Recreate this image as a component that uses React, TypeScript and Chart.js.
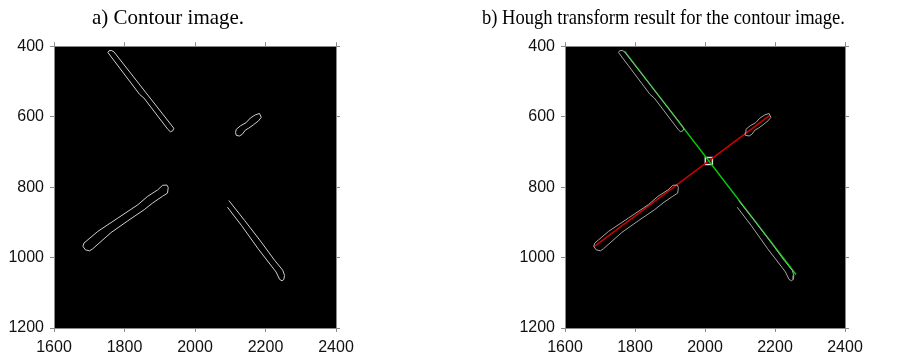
import React, { useEffect, useRef } from "react";
import { Chart, registerables } from "chart.js";

Chart.register(...registerables);

// ---- data (image coordinates: x = column, y = row) ----
const xTicks = [1600, 1800, 2000, 2200, 2400];
const yTicks = [400, 600, 800, 1000, 1200];

const titleA = "a) Contour image.";
const titleB = "b) Hough transform result for the contour image.";

// contour outlines of the four line segments
const blob1 = [
  [1756, 413], [1763, 412], [1770, 416], [1940, 633], [1937, 640], [1930, 643],
  [1923, 636], [1855, 547], [1843, 537], [1753, 418], [1756, 413],
];
const blob2 = [
  [2115, 645], [2117, 636], [2129, 626], [2145, 617], [2157, 604], [2171, 595],
  [2183, 591], [2188, 602], [2180, 612], [2166, 623], [2152, 633], [2143, 638],
  [2134, 650], [2126, 655], [2117, 653], [2115, 645],
];
const blob3 = [
  [1682, 968], [1685, 959], [1724, 926], [1781, 888], [1838, 850], [1866, 826],
  [1894, 808], [1908, 795], [1920, 794], [1924, 801], [1922, 817], [1908, 826],
  [1880, 845], [1856, 864], [1809, 896], [1762, 929], [1710, 975], [1701, 981],
  [1689, 978], [1682, 968],
];
const blob4 = [
  [2096, 838], [2141, 895], [2188, 956], [2226, 1008], [2249, 1036], [2254, 1051],
  [2252, 1062], [2247, 1066], [2240, 1062], [2230, 1041], [2179, 975], [2132, 909],
  [2092, 857],
];

// Hough transform detected lines and their intersection
const greenLine = [[1770, 414], [2260, 1048]];
const redLine = [[1683, 969], [2184, 597]];
const houghPeak = [[2011, 726]];

const contours = [blob1, blob2, blob3, blob4];

// ---- helpers ----
const toPts = (arr: number[][]) => arr.map(([x, y]) => ({ x, y }));

const axisColor = "#8a8a8a";
const tickFont = { family: "'Liberation Sans', Arial, sans-serif", size: 16 };

const blackArea = {
  id: "blackArea",
  beforeDraw(chart: any) {
    const { ctx, chartArea: a } = chart;
    if (!a) return;
    ctx.save();
    ctx.fillStyle = "#000";
    ctx.fillRect(a.left, a.top, a.right - a.left, a.bottom - a.top);
    ctx.restore();
  },
};

function makeScales(yAxisWidth: number) {
  const common = {
    type: "linear",
    grid: { drawOnChartArea: false, drawTicks: true, tickLength: 4, color: axisColor, lineWidth: 1 },
    border: { display: true, color: axisColor, width: 1 },
  };
  return {
    x: {
      ...common,
      axis: "x",
      position: "bottom",
      min: 1600,
      max: 2400,
      afterBuildTicks: (s: any) => { s.ticks = xTicks.map((v) => ({ value: v })); },
      ticks: { color: "#111", font: tickFont, padding: 6, maxRotation: 0, autoSkip: false, callback: (v: any) => String(v) },
      afterFit: (s: any) => { s.height = 31; s.paddingLeft = 0; s.paddingRight = 0; },
    },
    x2: {
      ...common,
      axis: "x",
      position: "top",
      min: 1600,
      max: 2400,
      afterBuildTicks: (s: any) => { s.ticks = xTicks.map((v) => ({ value: v })); },
      ticks: { display: false },
      afterFit: (s: any) => { s.height = 0; s.paddingLeft = 0; s.paddingRight = 0; },
    },
    y: {
      ...common,
      axis: "y",
      position: "left",
      reverse: true,
      min: 400,
      max: 1200,
      afterBuildTicks: (s: any) => { s.ticks = yTicks.map((v) => ({ value: v })); },
      ticks: { color: "#111", font: tickFont, padding: 6, autoSkip: false, callback: (v: any) => String(v) },
      afterFit: (s: any) => { s.width = yAxisWidth; s.paddingTop = 0; s.paddingBottom = 0; },
    },
    y2: {
      ...common,
      axis: "y",
      position: "right",
      reverse: true,
      min: 400,
      max: 1200,
      afterBuildTicks: (s: any) => { s.ticks = yTicks.map((v) => ({ value: v })); },
      ticks: { display: false },
      afterFit: (s: any) => { s.width = 0; s.paddingTop = 0; s.paddingBottom = 0; },
    },
  };
}

function lineDs(arr: number[][], color: string, width: number) {
  return {
    data: toPts(arr),
    showLine: true,
    borderColor: color,
    borderWidth: width,
    pointRadius: 0,
    fill: false,
    tension: 0,
  };
}

function makeConfig(title: string, yAxisWidth: number, rightPad: number, withHough: boolean) {
  const contourColor = withHough ? "#a6a6a6" : "#cfcfcf";
  const datasets: any[] = contours.map((c) => lineDs(c, contourColor, 1));
  if (withHough) {
    datasets.push(lineDs(greenLine, "#00d200", 1.4));
    datasets.push(lineDs(redLine, "#d20000", 1.4));
    datasets.push({
      data: toPts(houghPeak),
      showLine: false,
      pointStyle: "rect",
      pointRadius: 5,
      pointBorderWidth: 1.5,
      pointBorderColor: "#dcdcdc",
      pointBackgroundColor: "rgba(0,0,0,0)",
    });
  }
  return {
    type: "scatter",
    data: { datasets },
    options: {
      animation: false,
      responsive: false,
      devicePixelRatio: 1,
      layout: { padding: { left: 0, right: rightPad, top: 0, bottom: 0 } },
      scales: makeScales(yAxisWidth),
      plugins: {
        legend: { display: false },
        tooltip: { enabled: false },
        title: {
          display: true,
          text: title,
          color: "#000",
          font: { family: "'Liberation Serif', 'Times New Roman', serif", size: 21, weight: "normal" },
          padding: { top: 6, bottom: 15 },
        },
      },
    },
    plugins: [blackArea],
  } as any;
}

function Panel(props: { left: number; width: number; title: string; yw: number; rp: number; hough: boolean }) {
  const ref = useRef<HTMLCanvasElement>(null);
  useEffect(() => {
    if (!ref.current) return;
    const chart = new Chart(ref.current, makeConfig(props.title, props.yw, props.rp, props.hough));
    return () => chart.destroy();
  }, []);
  return (
    <canvas
      ref={ref}
      width={props.width}
      height={359}
      style={{ position: "absolute", left: props.left, top: 0, width: props.width, height: 359, display: "block" }}
    />
  );
}

export default function App() {
  return (
    <div style={{ position: "absolute", left: 0, top: 0, width: 902, height: 359, background: "#fff", overflow: "hidden" }}>
      <Panel left={0} width={363} title={titleA} yw={54} rp={27} hough={false} />
      <Panel left={482} width={420} title={titleB} yw={83} rp={57} hough={true} />
    </div>
  );
}
